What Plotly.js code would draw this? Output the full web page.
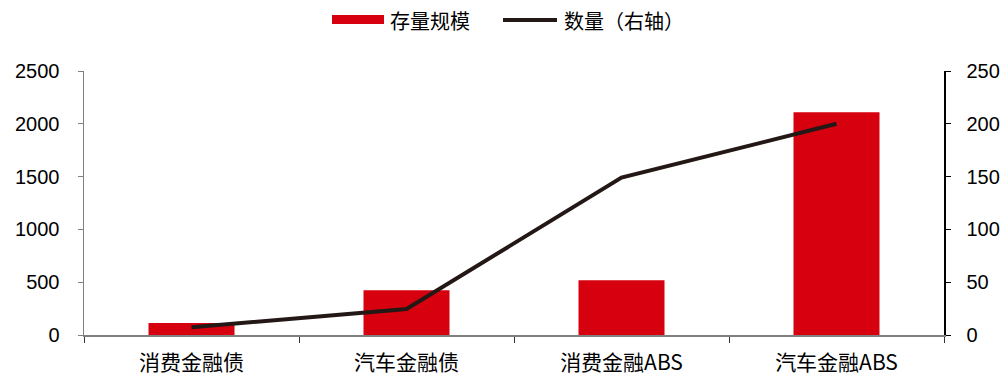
<!DOCTYPE html>
<html>
<head>
<meta charset="utf-8">
<script src="https://cdn.plot.ly/plotly-3.0.1.min.js"></script>
<style>html,body{margin:0;padding:0;background:#fff;}#chart{width:1008px;height:378px;}</style>
</head>
<body>
<div id="chart"></div>
<script>
const categories = ["消费金融债", "汽车金融债", "消费金融ABS", "汽车金融ABS"];
const stockScale = [114, 423, 518, 2109];
const countValues = [7.3, 24.6, 149, 200];
const seriesNames = ["存量规模", "数量（右轴）"];
const leftTicks = [0, 500, 1000, 1500, 2000, 2500];
const rightTicks = [0, 50, 100, 150, 200, 250];

const numFont = {family: "Liberation Sans, Arial, sans-serif", size: 20, color: "#000"};
const catFont = {family: "Noto Sans CJK SC, sans-serif", size: 21, color: "#000"};
const legFont = {family: "Noto Sans CJK SC, sans-serif", size: 20, color: "#000"};

const traces = [
  {type: "bar", name: seriesNames[0], x: categories, y: stockScale,
   marker: {color: "#d7000f"}, width: 0.4, showlegend: false, yaxis: "y"},
  {type: "scatter", mode: "lines", name: seriesNames[1], x: categories, y: countValues,
   line: {color: "#231815", width: 4}, showlegend: false, yaxis: "y2"}
];

const layout = {
  width: 1008, height: 378,
  margin: {l: 84, r: 64, t: 71, b: 43},
  paper_bgcolor: "#fff", plot_bgcolor: "#fff",
  xaxis: {type: "category", showline: true, linecolor: "#808080", linewidth: 1.5,
          ticks: "outside", tickson: "boundaries", ticklen: 6, tickcolor: "#333",
          tickfont: catFont, showgrid: false, zeroline: false, ticklabelstandoff: 8},
  yaxis: {range: [0, 2500], tickvals: leftTicks, showline: true, linecolor: "#808080", linewidth: 1.5,
          ticks: "outside", ticklen: 5, tickcolor: "#808080", tickfont: numFont,
          showgrid: false, zeroline: false, ticklabelstandoff: 14},
  yaxis2: {range: [0, 250], tickvals: rightTicks, overlaying: "y", side: "right",
           showline: true, linecolor: "#000", linewidth: 1.5, ticks: "outside", ticklen: 5,
           tickcolor: "#000", tickfont: numFont, showgrid: false, zeroline: false, ticklabelstandoff: 12},
  showlegend: false,
  shapes: [
    {type: "rect", xref: "paper", yref: "paper", x0: (332-84)/860, x1: (384-84)/860,
     y0: (335-24)/264, y1: (335-15)/264, fillcolor: "#d7000f", line: {width: 0}},
    {type: "line", xref: "paper", yref: "paper", x0: (503-84)/860, x1: (557-84)/860,
     y0: (335-20)/264, y1: (335-20)/264, line: {color: "#231815", width: 4}}
  ],
  annotations: [
    {xref: "paper", yref: "paper", x: (388-84)/860, y: (335-20)/264, xanchor: "left", yanchor: "middle",
     text: seriesNames[0], showarrow: false, font: legFont},
    {xref: "paper", yref: "paper", x: (562-84)/860, y: (335-20)/264, xanchor: "left", yanchor: "middle",
     text: seriesNames[1], showarrow: false, font: legFont}
  ]
};

Plotly.newPlot("chart", traces, layout, {displayModeBar: false, staticPlot: true});
</script>
</body>
</html>
